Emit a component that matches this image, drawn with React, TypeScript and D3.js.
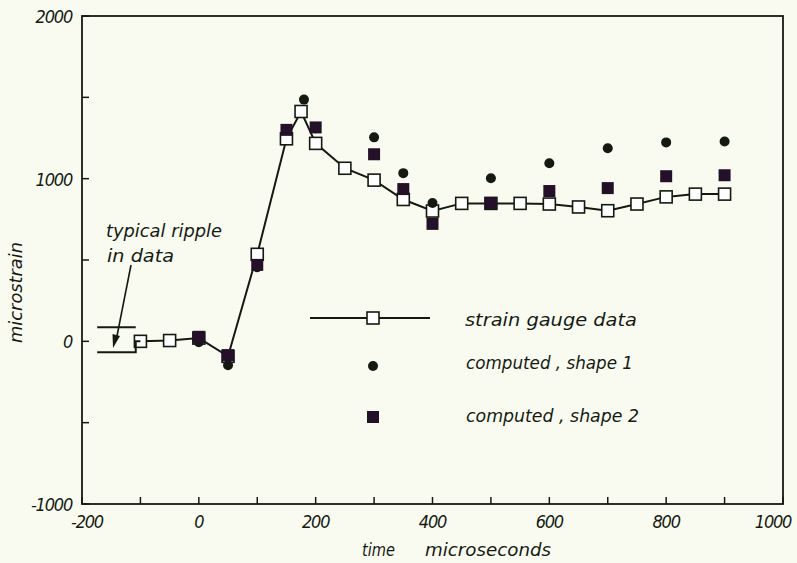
import React, { useEffect } from "react";
import * as d3 from "d3";

// strain gauge data (open squares joined by a line)
const gaugeTime = [-100, -50, 0, 50, 100, 150, 175, 200, 250, 300, 350, 400, 450, 500, 550, 600, 650, 700, 750, 800, 850, 900];
const gaugeStrain = [0, 5, 20, -92, 535, 1245, 1413, 1217, 1064, 991, 872, 801, 848, 848, 848, 844, 826, 803, 844, 888, 905, 905];

// computed, shape 1 (filled dots)
const shape1Time = [0, 50, 100, 150, 180, 200, 300, 350, 400, 500, 600, 700, 800, 900];
const shape1Strain = [-5, -147, 455, 1303, 1486, 1310, 1254, 1034, 850, 1003, 1095, 1187, 1223, 1229];

// computed, shape 2 (filled squares)
const shape2Time = [0, 50, 100, 150, 200, 300, 350, 400, 500, 600, 700, 800, 900];
const shape2Strain = [28, -85, 470, 1300, 1315, 1150, 936, 722, 850, 924, 942, 1015, 1021];

const xTicks = [-200, -100, 0, 100, 200, 300, 400, 500, 600, 700, 800, 900, 1000];
const xTickLabels = [-200, 0, 200, 400, 600, 800, 1000];
const yTicks = [-1000, -500, 0, 500, 1000, 1500, 2000];
const yTickLabels = [-1000, 0, 1000, 2000];

// ripple annotation in data coordinates
const rippleX = [-174, -108];
const rippleHigh = 86;
const rippleLow = -67;

const INK = "#141a12";
const BG = "#f9fbf1";
const FILL2 = "#25102a";
const FONT = "'DejaVu Sans', 'Liberation Sans', sans-serif";
const FONT_NARROW = "'DejaVu Sans Condensed', 'DejaVu Sans', sans-serif";

export default function App() {
  useEffect(() => {
    document.body.style.margin = "0";
    document.body.style.background = BG;
  }, []);

  const W = 797, H = 563;
  const x = d3.scaleLinear().domain([-200, 1000]).range([82, 783]);
  const y = d3.scaleLinear().domain([-1000, 2000]).range([504, 16]);

  const line = d3.line<number>()
    .x((_, i) => x(gaugeTime[i]))
    .y((d) => y(d));

  const sq = 12;
  const tickLen = 7;

  const labelStyle: React.CSSProperties = { fontFamily: FONT, fontStyle: "italic", fill: INK };
  const tickStyle: React.CSSProperties = { fontFamily: FONT_NARROW, fontStyle: "italic", fill: INK };

  return (
    <svg width={W} height={H} style={{ position: "absolute", left: 0, top: 0, background: BG }}>
      <rect x={0} y={0} width={W} height={H} fill={BG} />
      {/* frame */}
      <rect x={x(-200)} y={y(2000)} width={x(1000) - x(-200)} height={y(-1000) - y(2000)}
        fill="none" stroke={INK} strokeWidth={1.8} />
      {/* x ticks */}
      {xTicks.map((t) => (
        <line key={"xt" + t} x1={x(t)} x2={x(t)} y1={y(-1000)} y2={y(-1000) - tickLen} stroke={INK} strokeWidth={1.5} />
      ))}
      {/* y ticks */}
      {yTicks.map((t) => (
        <line key={"yt" + t} x1={x(-200)} x2={x(-200) + tickLen} y1={y(t)} y2={y(t)} stroke={INK} strokeWidth={1.5} />
      ))}
      {/* x tick labels */}
      {xTickLabels.map((t) => (
        <text key={"xl" + t} x={x(t) + (t === -200 ? 5 : t === 1000 ? -10 : 0)} y={528} textAnchor="middle"
          fontSize={18} style={tickStyle} letterSpacing={-1.2}>{t}</text>
      ))}
      {/* y tick labels */}
      {yTickLabels.map((t) => (
        <text key={"yl" + t} x={72} y={y(t) + 7} textAnchor="end"
          fontSize={18} style={tickStyle} letterSpacing={-1.2}>{t}</text>
      ))}
      {/* axis titles */}
      <text x={362} y={556} fontSize={18} style={labelStyle} textLength={33} lengthAdjust="spacingAndGlyphs">time</text>
      <text x={425} y={556} fontSize={18} style={labelStyle} textLength={126} lengthAdjust="spacingAndGlyphs">microseconds</text>
      <text transform={`translate(22,343) rotate(-90)`} fontSize={17} style={labelStyle}
        textLength={101} lengthAdjust="spacingAndGlyphs">microstrain</text>

      {/* gauge line */}
      <path d={line(gaugeStrain) || ""} fill="none" stroke={INK} strokeWidth={2} />
      {/* open squares */}
      {gaugeStrain.map((v, i) => (
        <rect key={"g" + i} x={x(gaugeTime[i]) - sq / 2} y={y(v) - sq / 2} width={sq} height={sq}
          fill="#ffffff" stroke={INK} strokeWidth={1.6} />
      ))}
      {/* shape 1 dots */}
      {shape1Strain.map((v, i) => (
        <circle key={"s1" + i} cx={x(shape1Time[i])} cy={y(v)} r={5} fill={INK} />
      ))}
      {/* shape 2 squares */}
      {shape2Strain.map((v, i) => (
        <rect key={"s2" + i} x={x(shape2Time[i]) - 6} y={y(v) - 6} width={12} height={12} fill={FILL2} />
      ))}

      {/* ripple annotation */}
      <line x1={x(rippleX[0])} x2={x(rippleX[1])} y1={y(rippleHigh)} y2={y(rippleHigh)} stroke={INK} strokeWidth={2} />
      <polyline points={`${x(rippleX[0])},${y(rippleLow)} ${x(rippleX[1])},${y(rippleLow)} ${x(rippleX[1])},${y(0)} ${x(-100)},${y(0)}`}
        fill="none" stroke={INK} strokeWidth={2} />
      <line x1={131} y1={265} x2={117} y2={336} stroke={INK} strokeWidth={1.6} />
      <path d="M113,348 L112.5,334 L120,336 Z" fill={INK} />
      <text x={106} y={237} fontSize={17} style={labelStyle} textLength={116} lengthAdjust="spacingAndGlyphs">typical ripple</text>
      <text x={107} y={262} fontSize={17} style={labelStyle} textLength={67} lengthAdjust="spacingAndGlyphs">in data</text>

      {/* legend */}
      <line x1={310} x2={430} y1={318} y2={318} stroke={INK} strokeWidth={2} />
      <rect x={373 - sq / 2} y={318 - sq / 2} width={sq} height={sq} fill="#ffffff" stroke={INK} strokeWidth={1.6} />
      <text x={465} y={326} fontSize={18} style={labelStyle} textLength={172} lengthAdjust="spacingAndGlyphs">strain gauge data</text>
      <circle cx={373} cy={366} r={5} fill={INK} />
      <text x={466} y={369} fontSize={18} style={labelStyle} textLength={167} lengthAdjust="spacingAndGlyphs">computed , shape 1</text>
      <rect x={373 - 6} y={417 - 6} width={12} height={12} fill={FILL2} />
      <text x={466} y={422} fontSize={18} style={labelStyle} textLength={173} lengthAdjust="spacingAndGlyphs">computed , shape 2</text>
    </svg>
  );
}
